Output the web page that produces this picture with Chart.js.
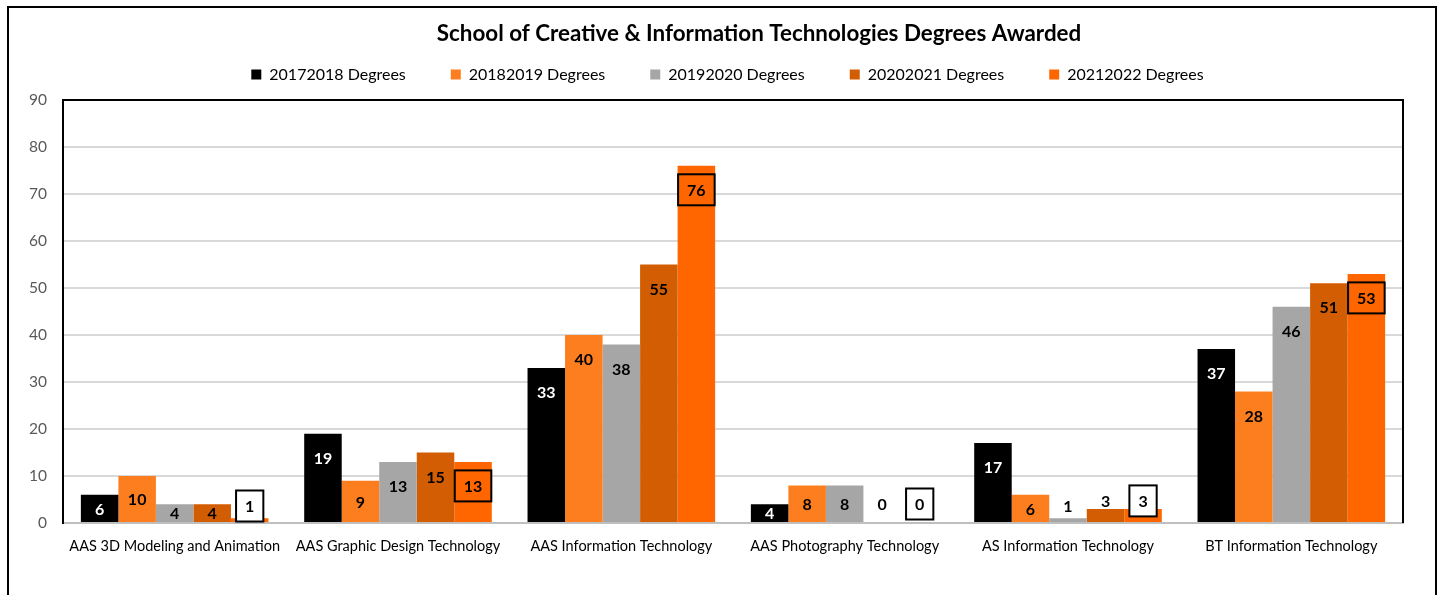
<!DOCTYPE html>
<html>
<head>
<meta charset="utf-8">
<script src="https://cdn.jsdelivr.net/npm/chart.js@4.4.1/dist/chart.umd.min.js"></script>
<style>
  html, body { margin: 0; padding: 0; background: #ffffff; overflow: hidden; }
  #wrap { position: absolute; left: 0; top: 0; width: 1440px; height: 595px; }
  #frame { position: absolute; left: 7px; top: 6px; width: 1426px; height: 640px; border: 2px solid #000; pointer-events: none; }
</style>
</head>
<body>
<div id="wrap"><canvas id="c" width="1440" height="595"></canvas></div>
<div id="frame"></div>
<script>
const categories = [
  'AAS 3D Modeling and Animation',
  'AAS Graphic Design Technology',
  'AAS Information Technology',
  'AAS Photography Technology',
  'AS Information Technology',
  'BT Information Technology'
];
const seriesNames = ['20172018 Degrees', '20182019 Degrees', '20192020 Degrees', '20202021 Degrees', '20212022 Degrees'];
const degrees2017 = [6, 19, 33, 4, 17, 37];
const degrees2018 = [10, 9, 40, 8, 6, 28];
const degrees2019 = [4, 13, 38, 8, 1, 46];
const degrees2020 = [4, 15, 55, 0, 3, 51];
const degrees2021 = [1, 13, 76, 0, 3, 53];
const yTicks = [0, 10, 20, 30, 40, 50, 60, 70, 80, 90];
const titleText = 'School of Creative & Information Technologies Degrees Awarded';

const colors = ['#000000', '#FD7E1E', '#A6A6A6', '#D35D02', '#FF6600'];
const seriesValues = [degrees2017, degrees2018, degrees2019, degrees2020, degrees2021];

const FONT = "Lato, 'Open Sans', sans-serif";

const layoutPatch = {
  id: 'layoutPatch',
  afterInit(chart) {
    const lg = chart.legend;
    const orig = lg.fit;
    lg.fit = function () { orig.call(this); this.height = 78.5; };
  },
  afterLayout(chart) {
    chart.titleBlock.left += 115;
    chart.legend.left += 52;
  }
};

const plotBorder = {
  id: 'plotBorder',
  afterDraw(chart) {
    const {ctx, chartArea: a} = chart;
    ctx.save();
    ctx.strokeStyle = '#000';
    ctx.lineWidth = 2;
    ctx.beginPath();
    ctx.moveTo(a.left - 1, a.top);
    ctx.lineTo(a.right, a.top);
    ctx.lineTo(a.right, a.bottom);
    ctx.stroke();
    ctx.restore();
  }
};

const barLabels = {
  id: 'barLabels',
  afterDatasetsDraw(chart) {
    const ctx = chart.ctx;
    ctx.save();
    ctx.font = 'bold 16px ' + FONT;
    ctx.textAlign = 'center';
    ctx.textBaseline = 'middle';
    chart.data.datasets.forEach((ds, di) => {
      const meta = chart.getDatasetMeta(di);
      meta.data.forEach((bar, i) => {
        const v = ds.data[i];
        const top = bar.y, base = bar.base, h = base - top;
        let y, inside;
        if (h >= 17) { y = Math.min(top + 24, (top + base) / 2); inside = true; }
        else { y = Math.min(base - 19, top - 8); inside = false; }
        if (!inside && h > 0 && h < 8) y = base - 16;
        const text = String(v);
        if (di === 4) {
          const w = ctx.measureText(text).width + 18;
          const bh = 31;
          if (!inside) { ctx.fillStyle = '#fff'; ctx.fillRect(bar.x - w / 2, y - bh / 2, w, bh); }
          ctx.strokeStyle = '#000';
          ctx.lineWidth = 2;
          ctx.strokeRect(bar.x - w / 2, y - bh / 2, w, bh);
        }
        ctx.fillStyle = (di === 0 && inside) ? '#fff' : '#000';
        ctx.fillText(text, bar.x, y + 1);
      });
    });
    ctx.restore();
  }
};

new Chart(document.getElementById('c'), {
  type: 'bar',
  data: {
    labels: categories,
    datasets: seriesNames.map((name, k) => ({
      label: name,
      data: seriesValues[k],
      backgroundColor: colors[k],
      borderWidth: 0,
      categoryPercentage: 0.84,
      barPercentage: 1.0
    }))
  },
  options: {
    responsive: false,
    animation: false,
    layout: { padding: { left: 0, right: 37, top: 0, bottom: 0 } },
    plugins: {
      title: {
        display: true,
        text: titleText,
        color: '#000',
        font: { family: FONT, size: 22.4, weight: 'bold', lineHeight: 1.2 },
        padding: { top: 20, bottom: -25.4 }
      },
      legend: {
        display: true,
        position: 'top',
        labels: {
          color: '#000',
          font: { family: FONT, size: 16 },
          boxWidth: 10,
          boxHeight: 10,
          padding: 45
        }
      },
      tooltip: { enabled: false }
    },
    scales: {
      x: {
        grid: { display: false },
        border: { display: true, color: '#BFBFBF', width: 2 },
        ticks: { color: '#000', font: { family: FONT, size: 14.5 }, padding: 7, maxRotation: 0, autoSkip: false },
        afterFit(scale) { scale.height = 72; }
      },
      y: {
        min: 0,
        max: 90,
        afterBuildTicks(scale) { scale.ticks = yTicks.map(v => ({ value: v })); },
        grid: {
          color: (c) => (c.tick && (c.tick.value === 0 || c.tick.value === 90)) ? 'rgba(0,0,0,0)' : '#D9D9D9',
          lineWidth: 2,
          drawTicks: false
        },
        border: { display: true, color: '#000', width: 2 },
        ticks: { color: '#595959', font: { family: FONT, size: 15.5 }, padding: 16 },
        afterFit(scale) { scale.width = 63; }
      }
    }
  },
  plugins: [layoutPatch, plotBorder, barLabels]
});
</script>
</body>
</html>
